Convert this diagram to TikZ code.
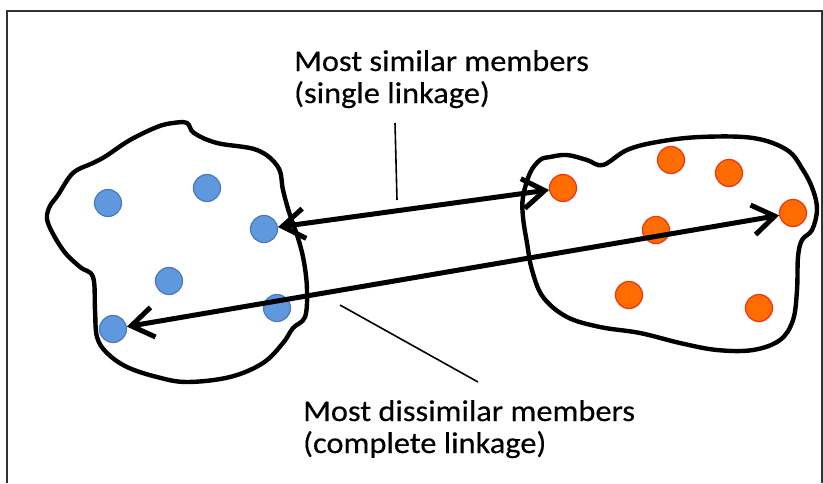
\documentclass[tikz,border=0pt]{standalone}
\usepackage{fontspec}
\newfontfamily\labfont[FakeStretch=1.08,FakeBold=0.4]{Carlito}
\usetikzlibrary{arrows.meta}
\definecolor{bluefill}{RGB}{96,152,222}
\definecolor{blueedge}{RGB}{72,122,196}
\definecolor{orfill}{RGB}{255,108,0}
\definecolor{oredge}{RGB}{250,48,20}
\definecolor{framecol}{RGB}{50,50,50}
\tikzset{
  bdot/.style={circle,minimum size=27pt,inner sep=0pt,fill=bluefill,draw=blueedge,line width=1.2pt},
  odot/.style={circle,minimum size=27pt,inner sep=0pt,fill=orfill,draw=oredge,line width=1.2pt},
  blob/.style={line width=4.4pt,line join=round},
  link/.style={line width=5pt,{Straight Barb[length=22pt,width=30pt,line width=5pt]}-{Straight Barb[length=22pt,width=30pt,line width=5pt]}},
  pointer/.style={line width=1.6pt},
  lab/.style={font=\labfont\fontsize{30}{32}\selectfont,inner sep=0pt,anchor=base west},
}
\begin{document}
\begin{tikzpicture}[x=1pt,y=-1pt]
\useasboundingbox (0,0) rectangle (823,483);
\fill[white] (0,0) rectangle (823,483);
\draw[framecol,line width=1.3pt] (7,483) -- (7,11) -- (822,11) -- (822,483);
% blobs
\draw[blob] plot[smooth cycle,tension=0.6] coordinates {(173,123) (187,123) (194,133) (217,143) (257,150) (278,167) (283,190) (289,212) (298,238) (304,262) (307,290) (305,317) (293,328) (283,343) (263,363) (230,377) (187,382) (157,377) (127,367) (107,353) (97,337) (95,310) (93,277) (80,267) (63,250) (48,223) (49,208) (58,195) (73,173) (93,163) (106,156) (130,140) (157,127)};
\draw[blob] plot[smooth cycle,tension=0.6] coordinates {(550,157) (567,155) (587,160) (603,165) (627,150) (657,142) (700,137) (753,138) (787,150) (803,170) (813,190) (817,210) (812,230) (802,240) (798,257) (797,290) (793,320) (780,340) (753,350) (717,350) (680,343) (640,333) (600,327) (567,317) (543,297) (532,270) (527,243) (523,217) (523,197) (530,173) (540,160)};
% blue dots
\node[bdot] (b1) at (108,203) {};
\node[bdot] (b2) at (207,188) {};
\node[bdot] (b3) at (264,229) {};
\node[bdot] (b4) at (169,281) {};
\node[bdot] (b5) at (277,308) {};
\node[bdot] (b6) at (113,329) {};
% orange dots
\node[odot] (o1) at (563,188) {};
\node[odot] (o2) at (671,160) {};
\node[odot] (o3) at (729,173) {};
\node[odot] (o4) at (656,230) {};
\node[odot] (o5) at (793,213) {};
\node[odot] (o6) at (629,295) {};
\node[odot] (o7) at (759,308) {};
% linkage arrows
\draw[link] (b3) -- (o1);
\draw[link] (b6) -- (o5);
% labels
\node[lab] (t1a) at (294,71) {Most similar members};
\node[lab] (t1b) at (294,103) {(single linkage)};
\node[lab] (t2a) at (303,421) {Most dissimilar members};
\node[lab] (t2b) at (303,453) {(complete linkage)};
% pointers
\coordinate (p1a) at (395,123);
\coordinate (p1b) at (397,200);
\coordinate (p2a) at (340,305);
\coordinate (p2b) at (478,382);
\draw[pointer] (p1a) -- (p1b);
\draw[pointer] (p2a) -- (p2b);
\end{tikzpicture}
\end{document}
